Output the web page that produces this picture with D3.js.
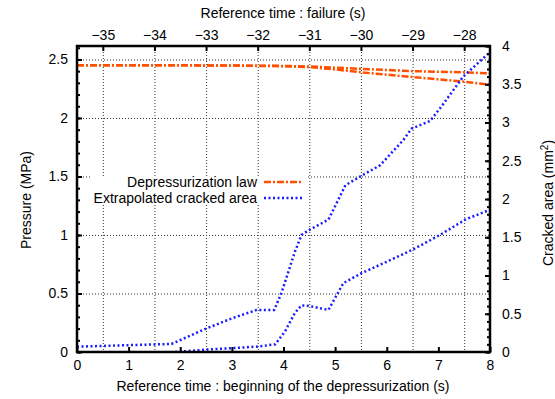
<!DOCTYPE html>
<html>
<head>
<meta charset="utf-8">
<script src="https://cdn.jsdelivr.net/npm/d3@7"></script>
<style>
  body { margin: 0; background: #fff; }
  text { font-family: "Liberation Sans", Arial, sans-serif; fill: #000; }
</style>
</head>
<body>
<svg id="chart"></svg>
<script>
// depressurization law (MPa), two runs, against time since start (s)
let law_time = [0, 1, 2, 3, 4, 4.5, 5, 5.5, 6, 6.5, 7, 7.5, 8];
let law_upper = [2.45, 2.45, 2.45, 2.448, 2.445, 2.44, 2.43, 2.42, 2.41, 2.40, 2.395, 2.39, 2.38];
let law_lower = [2.45, 2.45, 2.45, 2.448, 2.442, 2.435, 2.415, 2.39, 2.37, 2.35, 2.33, 2.31, 2.285];

// extrapolated cracked area (mm2)
let crack_time_a = [0, 1.83, 2.48, 3.0, 3.48, 3.82, 3.96, 4.22, 4.35, 4.51, 4.87, 5.2, 5.5, 5.87, 6.32, 6.48, 6.84, 7.06, 7.48, 8];
let crack_area_a = [0.07, 0.105, 0.30, 0.44, 0.55, 0.55, 0.77, 1.31, 1.53, 1.60, 1.73, 2.18, 2.3, 2.44, 2.77, 2.92, 3.02, 3.21, 3.60, 3.92];
let crack_time_b = [1.9, 2.48, 3.0, 3.48, 3.84, 4.03, 4.22, 4.35, 4.51, 4.87, 5.16, 5.51, 6.0, 6.51, 7.03, 7.52, 8];
let crack_area_b = [0, 0.03, 0.05, 0.07, 0.10, 0.27, 0.51, 0.61, 0.60, 0.55, 0.90, 1.03, 1.18, 1.34, 1.53, 1.73, 1.86];

let x_ticks = [0, 1, 2, 3, 4, 5, 6, 7, 8];
let x2_ticks = [-35, -34, -33, -32, -31, -30, -29, -28];
let y_ticks = [0, 0.5, 1, 1.5, 2, 2.5];
let y2_ticks = [0, 0.5, 1, 1.5, 2, 2.5, 3, 3.5, 4];
let legend_labels = ["Depressurization law", "Extrapolated cracked area"];

let width = 555, height = 399;
let m_left = 77, m_right = 490, m_top = 46, m_bottom = 352;
let font_size = "14px";

let svg = d3.select("#chart").attr("width", width).attr("height", height);

let x = d3.scaleLinear().domain([0, 8]).range([m_left, m_right]);
let x2 = d3.scaleLinear().domain([-35.5, -27.5]).range([m_left, m_right]);
let y = d3.scaleLinear().domain([0, 2.615]).range([m_bottom, m_top]);
let y2 = d3.scaleLinear().domain([0, 4]).range([m_bottom, m_top]);

let minor = function(lo, hi, step) {
  let out = [];
  for (let i = Math.round(lo / step); i * step <= hi + 1e-9; i++) out.push(+(i * step).toFixed(3));
  return out;
};

// grid: vertical from top axis, horizontal from left axis
let grid = svg.append("g").attr("class", "grid");
grid.append("g")
  .attr("transform", `translate(0,${m_top})`)
  .call(d3.axisTop(x2).tickValues(x2_ticks).tickSize(-(m_bottom - m_top)).tickFormat(""));
grid.append("g")
  .attr("transform", `translate(${m_left},0)`)
  .call(d3.axisLeft(y).tickValues(y_ticks.slice(1)).tickSize(-(m_right - m_left)).tickFormat(""));
grid.selectAll(".domain").remove();
grid.selectAll("line")
  .attr("stroke", "#333")
  .attr("stroke-width", 1)
  .attr("stroke-dasharray", "1,2");

svg.append("clipPath").attr("id", "clip")
  .append("rect")
  .attr("x", m_left).attr("y", m_top)
  .attr("width", m_right - m_left).attr("height", m_bottom - m_top);

let plot = svg.append("g").attr("clip-path", "url(#clip)");

let lawLine = d3.line().x((d, i) => x(law_time[i])).y(d => y(d));
[law_upper, law_lower].forEach(function(series) {
  plot.append("path")
    .attr("d", lawLine(series))
    .attr("fill", "none")
    .attr("stroke", "#ff5000")
    .attr("stroke-width", 2.5)
    .attr("stroke-dasharray", "7,2,2,2");
});

[[crack_time_a, crack_area_a], [crack_time_b, crack_area_b]].forEach(function(pair) {
  let line = d3.line().x((d, i) => x(pair[0][i])).y(d => y2(d));
  plot.append("path")
    .attr("d", line(pair[1]))
    .attr("fill", "none")
    .attr("stroke", "#1a1aff")
    .attr("stroke-width", 2.5)
    .attr("stroke-dasharray", "2,2.5");
});

// legend
let legend = svg.append("g");
legend.append("rect")
  .attr("x", 90).attr("y", 176)
  .attr("width", 218).attr("height", 29)
  .attr("fill", "#fff");
legend_labels.forEach(function(label, i) {
  let ly = 182 + i * 16;
  legend.append("text")
    .attr("x", 257).attr("y", ly)
    .attr("dy", "0.35em")
    .attr("text-anchor", "end")
    .style("font-size", font_size)
    .text(label);
  legend.append("line")
    .attr("x1", 264).attr("x2", 303)
    .attr("y1", ly).attr("y2", ly)
    .attr("stroke", i == 0 ? "#ff5000" : "#1a1aff")
    .attr("stroke-width", 2.5)
    .attr("stroke-dasharray", i == 0 ? "7,2,2,2" : "2,2.5");
});

// axes with inward ticks
let axes = svg.append("g");
axes.append("g")
  .attr("transform", `translate(0,${m_bottom})`)
  .call(d3.axisBottom(x).tickValues(x_ticks).tickSize(-5).tickPadding(8).tickFormat(d3.format("d")));
axes.append("g")
  .attr("transform", `translate(0,${m_top})`)
  .call(d3.axisTop(x2).tickValues(x2_ticks).tickSize(-5).tickPadding(6).tickFormat(d => "\u2212" + Math.abs(d)));
axes.append("g")
  .attr("transform", `translate(${m_left},0)`)
  .call(d3.axisLeft(y).tickValues(y_ticks).tickSize(-5).tickPadding(9).tickFormat(d => d));
axes.append("g")
  .attr("transform", `translate(${m_left},0)`)
  .call(d3.axisLeft(y).tickValues(minor(0, 2.6, 0.1)).tickSize(-3).tickFormat(""));
axes.append("g")
  .attr("transform", `translate(${m_right},0)`)
  .call(d3.axisRight(y2).tickValues(y2_ticks).tickSize(-5).tickPadding(12).tickFormat(d => d));
axes.append("g")
  .attr("transform", `translate(${m_right},0)`)
  .call(d3.axisRight(y2).tickValues(minor(0, 4, 0.1)).tickSize(-3).tickFormat(""));
axes.selectAll(".domain").remove();
axes.selectAll("line").attr("stroke", "#000").attr("stroke-width", 2);
axes.selectAll("text")
  .style("font-size", font_size)
  .style("font-family", "'Liberation Sans', Arial, sans-serif")
  .attr("fill", "#000");

svg.append("rect")
  .attr("x", m_left).attr("y", m_top)
  .attr("width", m_right - m_left).attr("height", m_bottom - m_top)
  .attr("fill", "none")
  .attr("stroke", "#000")
  .attr("stroke-width", 2.5);

// titles
svg.append("text")
  .attr("x", 283).attr("y", 18)
  .attr("text-anchor", "middle")
  .style("font-size", font_size)
  .text("Reference time : failure (s)");
svg.append("text")
  .attr("x", 283).attr("y", 391)
  .attr("text-anchor", "middle")
  .style("font-size", font_size)
  .text("Reference time : beginning of the depressurization (s)");
svg.append("text")
  .attr("transform", "translate(31,200) rotate(-90)")
  .attr("text-anchor", "middle")
  .style("font-size", font_size)
  .text("Pressure (MPa)");
let rt = svg.append("text")
  .attr("transform", "translate(553,203) rotate(-90)")
  .attr("text-anchor", "middle")
  .style("font-size", font_size);
rt.append("tspan").text("Cracked area (mm");
rt.append("tspan").attr("dy", "-5").style("font-size", "10px").text("2");
rt.append("tspan").attr("dy", "5").text(")");
</script>
</body>
</html>
